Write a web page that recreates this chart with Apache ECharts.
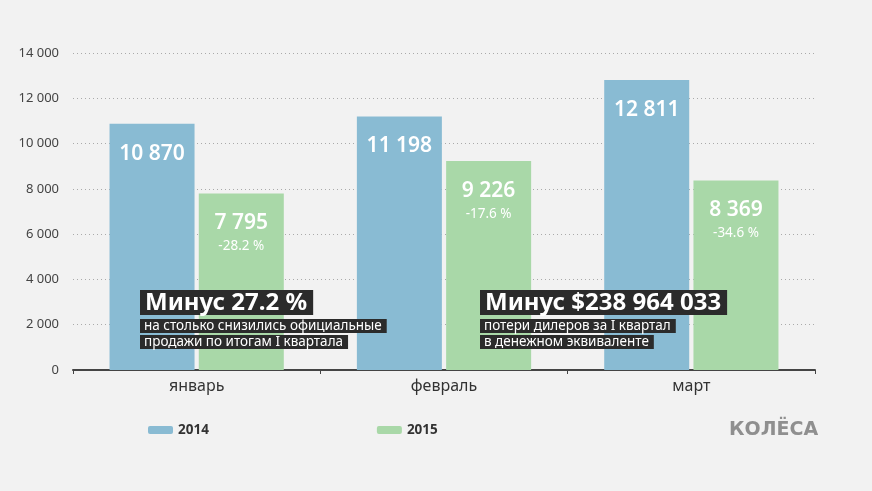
<!DOCTYPE html>
<html><head><meta charset="utf-8">
<script src="https://cdn.jsdelivr.net/npm/echarts@6/dist/echarts.min.js"></script>
<style>html,body{margin:0;padding:0;background:#f2f2f2}#c{width:872px;height:491px}</style>
</head><body><div id="c"></div>
<script>
const categories = ['январь', 'февраль', 'март'];
const values2014 = [10870, 11198, 12811];
const values2015 = [7795, 9226, 8369];
const change2015 = ['-28.2 %', '-17.6 %', '-34.6 %'];
const yTicks = [0, 2000, 4000, 6000, 8000, 10000, 12000, 14000];

const fmt = v => String(v).replace(/\B(?=(\d{3})+(?!\d))/g, ' ');
const FONT = '"Noto Sans", "Open Sans", sans-serif';

const chart = echarts.init(document.getElementById('c'));
chart.setOption({
  backgroundColor: '#f2f2f2',
  animation: false,
  textStyle: { fontFamily: FONT },
  grid: { left: 73, right: 57, top: 53, bottom: 121 },
  legend: {
    left: 143, top: 418, itemWidth: 25, itemHeight: 8, itemGap: 168,
    icon: 'roundRect',
    textStyle: { fontSize: 13.5, fontWeight: 'bold', color: '#333', fontFamily: FONT },
    data: ['2014', '2015']
  },
  xAxis: {
    type: 'category', data: categories,
    axisLine: { lineStyle: { color: '#444', width: 2 } },
    axisTick: { show: true, lineStyle: { color: '#444' }, length: 4 },
    axisLabel: { fontSize: 16, color: '#333', margin: 8, fontFamily: FONT }
  },
  yAxis: {
    type: 'value', min: 0, max: 14000, interval: 2000,
    axisLine: { show: false }, axisTick: { show: false },
    axisLabel: { fontSize: 13, color: '#444', margin: 14, formatter: v => fmt(v), fontFamily: FONT },
    splitLine: { lineStyle: { color: '#aaa', type: [1, 3], width: 1 } }
  },
  series: [
    {
      name: '2014', type: 'bar', data: values2014,
      barWidth: 85, barGap: '5%',
      itemStyle: { color: '#89bbd3' },
      label: {
        show: true, position: 'insideTop', distance: 18,
        formatter: p => fmt(p.value),
        color: '#fff', fontSize: 21, fontWeight: 600, lineHeight: 24, fontFamily: FONT
      }
    },
    {
      name: '2015', type: 'bar', data: values2015,
      barWidth: 85,
      itemStyle: { color: '#a9d8a8' },
      label: {
        show: true, position: 'insideTop', distance: 18,
        formatter: p => '{v|' + fmt(p.value) + '}\n{p|' + change2015[p.dataIndex] + '}',
        rich: {
          v: { color: '#fff', fontSize: 21, fontWeight: 600, lineHeight: 24, fontFamily: FONT },
          p: { color: '#fff', fontSize: 13.5, lineHeight: 22, fontFamily: FONT }
        }
      }
    }
  ],
  graphic: [
    { type: 'text', left: 140, top: 290, z: 100, style: { text: 'Минус 27.2 %', fill: '#fff', backgroundColor: '#2b2b2b', padding: [1, 6, 0, 5], font: 'bold 24px ' + FONT } },
    { type: 'text', left: 140, top: 319, z: 100, style: { text: 'на столько снизились официальные', fill: '#fff', backgroundColor: '#2b2b2b', padding: [0, 5, 0, 4], font: '13.5px ' + FONT } },
    { type: 'text', left: 140, top: 335, z: 100, style: { text: 'продажи по итогам I квартала', fill: '#fff', backgroundColor: '#2b2b2b', padding: [0, 5, 0, 4], font: '13.5px ' + FONT } },
    { type: 'text', left: 480, top: 290, z: 100, style: { text: 'Минус $238 964 033', fill: '#fff', backgroundColor: '#2b2b2b', padding: [1, 6, 0, 5], font: 'bold 24px ' + FONT } },
    { type: 'text', left: 480, top: 319, z: 100, style: { text: 'потери дилеров за I квартал', fill: '#fff', backgroundColor: '#2b2b2b', padding: [0, 5, 0, 4], font: '13.5px ' + FONT } },
    { type: 'text', left: 480, top: 335, z: 100, style: { text: 'в денежном эквиваленте', fill: '#fff', backgroundColor: '#2b2b2b', padding: [0, 5, 0, 4], font: '13.5px ' + FONT } },
    { type: 'text', left: 729, top: 421, z: 100, style: { text: 'КОЛЁСА', fill: '#8f8f8f', font: 'bold 19px "DejaVu Sans", sans-serif' } }
  ]
});
</script></body></html>
